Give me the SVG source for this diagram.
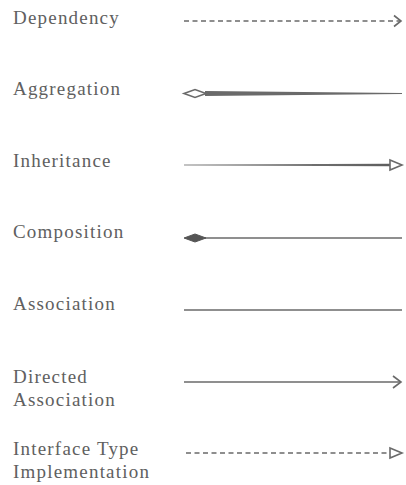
<svg xmlns="http://www.w3.org/2000/svg" width="406" height="485" viewBox="0 0 406 485">
<defs>
<linearGradient id="taper" x1="0" x2="1" y1="0" y2="0">
<stop offset="0" stop-color="#8a8a8a"/>
<stop offset="1" stop-color="#5e5e5e"/>
</linearGradient>
</defs>
<style>
.lbl{font-family:"Liberation Serif","DejaVu Serif",serif;font-size:19px;letter-spacing:1.2px;fill:#606060}
.ln{stroke:#6a6a6a;stroke-width:1.6;fill:none}
.dash{stroke-dasharray:5,3.5}
</style>
<rect width="406" height="485" fill="#fff"/>
<g id="labels">
<g id="dependency"><text class="lbl" x="13" y="23.5">Dependency</text></g>
<g id="aggregation"><text class="lbl" x="13" y="95">Aggregation</text></g>
<g id="inheritance"><text class="lbl" x="13" y="166.5">Inheritance</text></g>
<g id="composition"><text class="lbl" x="13" y="237.5">Composition</text></g>
<g id="association"><text class="lbl" x="13" y="310">Association</text></g>
<g id="directed"><text class="lbl" x="13" y="382.5">Directed</text><text class="lbl" x="13" y="406">Association</text></g>
<g id="interface"><text class="lbl" x="13" y="455">Interface Type</text><text class="lbl" x="13" y="477.5">Implementation</text></g>
</g>
<g id="connectors">
<line class="ln dash" x1="184" y1="21" x2="400" y2="21"/>
<polyline class="ln" points="394,15.5 401,21 394,26.5" stroke-width="1.8"/>
<path d="M205,91 L402,93 L402,94 L205,96 Z" fill="#6a6a6a"/>
<polygon points="184,93.5 195,89.5 206,93.5 195,97.5" fill="#fff" stroke="#6a6a6a" stroke-width="1.6"/>
<path d="M184,164.6 L390,163.7 L390,166.3 L184,165.4 Z" fill="url(#taper)"/>
<polygon points="390,160 402,165 390,170" fill="#fff" stroke="#6a6a6a" stroke-width="1.6"/>
<line class="ln" x1="205" y1="238" x2="402" y2="238"/>
<polygon points="184,238 195,234 206,238 195,242" fill="#555" stroke="#555" stroke-width="1"/>
<line class="ln" x1="184" y1="310" x2="402" y2="310"/>
<line class="ln" x1="184" y1="382" x2="401" y2="382"/>
<polyline class="ln" points="393,376 401,382 393,388" stroke-width="1.8"/>
<line class="ln dash" x1="186" y1="453" x2="390" y2="453"/>
<polygon points="390,448 402,453 390,458" fill="#fff" stroke="#6a6a6a" stroke-width="1.6"/>
</g>
</svg>
